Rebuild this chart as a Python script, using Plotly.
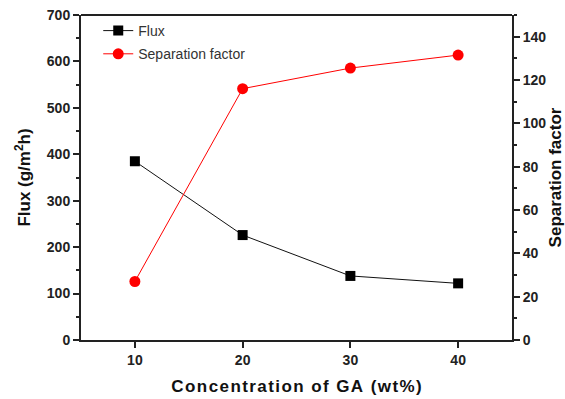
import plotly.graph_objects as go

ga_conc = [10, 20, 30, 40]
flux = [385, 226, 138, 122]
sep_factor = [27, 116, 125.5, 131.5]

FONT = "Liberation Sans, Arial, sans-serif"
AX = "#222222"
HS = "\u200a"  # hair space for the spaced-out axis title


def spaced(s):
    return HS.join(list(s))


fig = go.Figure()
fig.add_trace(go.Scatter(
    x=ga_conc, y=flux, name="Flux", mode="lines+markers",
    line=dict(color="#111111", width=1),
    marker=dict(symbol="square", size=10, color="black"),
    legendgroup="a", yaxis="y"))
fig.add_trace(go.Scatter(
    x=ga_conc, y=sep_factor, name="Separation factor", mode="lines+markers",
    line=dict(color="#ff0000", width=1),
    marker=dict(symbol="circle", size=11, color="#ff0000"),
    legendgroup="b", yaxis="y2"))

tickfont = dict(size=14, color=AX, family=FONT, weight="bold")
titlefont = dict(size=17, family=FONT, weight="bold", color="#111111")

fig.update_layout(
    width=565, height=399,
    margin=dict(l=81, r=53, t=15, b=59),
    paper_bgcolor="white", plot_bgcolor="white",
    font=dict(family=FONT, color=AX),
    showlegend=True,
    legend=dict(x=0.04, y=1.0, xanchor="left", yanchor="top",
                bgcolor="rgba(0,0,0,0)", font=dict(size=14, color="#333333"),
                itemwidth=30, traceorder="grouped", tracegroupgap=2),
    xaxis=dict(
        range=[5, 45], tickvals=[10, 20, 30, 40], automargin=False,
        showline=True, linecolor=AX, linewidth=2, mirror=False,
        ticks="outside", ticklen=6, tickwidth=1.5, tickcolor=AX,
        tickfont=tickfont,
        showgrid=False, zeroline=False,
        title=dict(text=spaced("Concentration of GA (wt%)"), font=titlefont, standoff=13),
    ),
    yaxis=dict(
        range=[0, 700], tickvals=[0, 100, 200, 300, 400, 500, 600, 700],
        automargin=False,
        showline=True, linecolor=AX, linewidth=2,
        ticks="outside", ticklen=6, tickwidth=1.5, tickcolor=AX,
        minor=dict(ticks="outside", ticklen=3, tickwidth=1.5, tickcolor=AX, dtick=50),
        tickfont=tickfont,
        showgrid=False, zeroline=False,
        title=dict(text="Flux (g/m<sup>2</sup>h)", font=titlefont, standoff=12),
    ),
    yaxis2=dict(
        range=[0, 150], tickvals=[0, 20, 40, 60, 80, 100, 120, 140],
        overlaying="y", side="right", automargin=False,
        showline=True, linecolor=AX, linewidth=2,
        ticks="outside", ticklen=6, tickwidth=1.5, tickcolor=AX,
        minor=dict(ticks="outside", ticklen=3, tickwidth=1.5, tickcolor=AX, dtick=10),
        tickfont=tickfont,
        showgrid=False, zeroline=False,
        title=dict(text="Separation factor", font=titlefont, standoff=11),
    ),
    shapes=[dict(type="line", xref="paper", yref="paper", x0=0, x1=1, y0=1, y1=1,
                 line=dict(color=AX, width=2))],
)

fig.write_html("out.html")
